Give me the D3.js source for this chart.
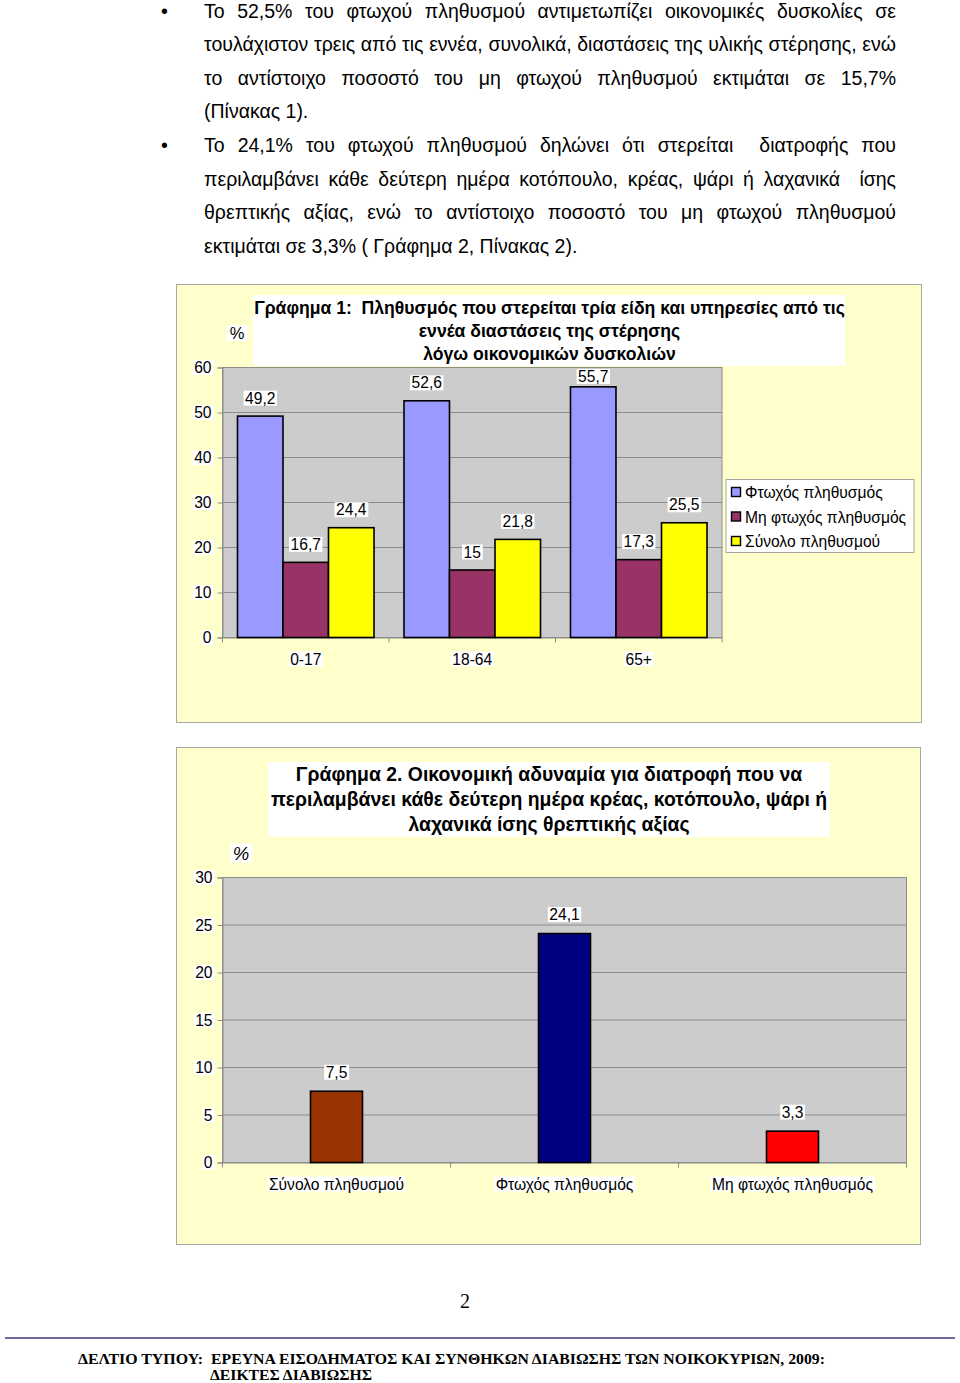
<!DOCTYPE html>
<html>
<head>
<meta charset="utf-8">
<script src="https://cdn.jsdelivr.net/npm/d3@7"></script>
<style>
  html, body { margin: 0; padding: 0; background: #ffffff; }
  svg { display: block; }
</style>
</head>
<body>
<svg id="page" width="960" height="1383"></svg>
<script>
// ---------------- DATA ----------------
const paragraph1 = [
  "Το 52,5% του φτωχού πληθυσμού αντιμετωπίζει οικονομικές δυσκολίες σε",
  "τουλάχιστον τρεις από τις εννέα, συνολικά, διαστάσεις της υλικής στέρησης, ενώ",
  "το αντίστοιχο ποσοστό του μη φτωχού πληθυσμού εκτιμάται σε 15,7%",
  "(Πίνακας 1)."
];
const paragraph2 = [
  "Το 24,1% του φτωχού πληθυσμού δηλώνει ότι στερείται  διατροφής που",
  "περιλαμβάνει κάθε δεύτερη ημέρα κοτόπουλο, κρέας, ψάρι ή λαχανικά  ίσης",
  "θρεπτικής αξίας, ενώ το αντίστοιχο ποσοστό του μη φτωχού πληθυσμού",
  "εκτιμάται σε 3,3% ( Γράφημα 2, Πίνακας 2)."
];

const chart1Title = [
  "Γράφημα 1:  Πληθυσμός που στερείται τρία είδη και υπηρεσίες από τις",
  "εννέα διαστάσεις της στέρησης",
  "λόγω οικονομικών δυσκολιών"
];
const chart1Categories = ["0-17", "18-64", "65+"];
const chart1Series = ["Φτωχός πληθυσμός", "Μη φτωχός πληθυσμός", "Σύνολο πληθυσμού"];
const chart1Poor = [49.2, 52.6, 55.7];
const chart1NonPoor = [16.7, 15, 17.3];
const chart1Total = [24.4, 21.8, 25.5];
const chart1YTicks = [0, 10, 20, 30, 40, 50, 60];

const chart2Title = [
  "Γράφημα 2. Οικονομική αδυναμία για διατροφή που να",
  "περιλαμβάνει κάθε δεύτερη ημέρα κρέας, κοτόπουλο, ψάρι ή",
  "λαχανικά ίσης θρεπτικής αξίας"
];
const chart2Categories = ["Σύνολο πληθυσμού", "Φτωχός πληθυσμός", "Μη φτωχός πληθυσμός"];
const chart2Values = [7.5, 24.1, 3.3];
const chart2YTicks = [0, 5, 10, 15, 20, 25, 30];

const pageNumber = "2";
const footerLabel = "ΔΕΛΤΙΟ ΤΥΠΟΥ:";
const footerLine1 = "ΕΡΕΥΝΑ ΕΙΣΟΔΗΜΑΤΟΣ ΚΑΙ ΣΥΝΘΗΚΩΝ ΔΙΑΒΙΩΣΗΣ ΤΩΝ ΝΟΙΚΟΚΥΡΙΩΝ, 2009:";
const footerLine2 = "ΔΕΙΚΤΕΣ ΔΙΑΒΙΩΣΗΣ";

// ---------------- STYLE ----------------
const SANS = "'Liberation Sans', Arial, sans-serif";
const SERIF = "'Liberation Serif', 'Times New Roman', serif";
const CHART_FS = 15.6;
const fmt = v => String(v).replace(".", ",");

const svg = d3.select("#page");

// ---------------- PARAGRAPHS ----------------
function drawParagraph(lines, top, lineGap) {
  const left = 204, right = 896, W = right - left, fs = 19.5;
  const g = svg.append("g").attr("font-family", SANS).attr("font-size", fs).attr("fill", "#000");
  g.append("text").attr("x", 161).attr("y", top).text("•");
  const probe = g.append("text").attr("visibility", "hidden");
  const measure = s => { probe.text(s); return probe.node().getComputedTextLength(); };
  const spaceW = measure("a a") - measure("aa");
  lines.forEach((ln, i) => {
    const y = top + i * lineGap;
    if (i === lines.length - 1) {
      g.append("text").attr("x", left).attr("y", y).attr("xml:space", "preserve").text(ln);
      return;
    }
    const words = ln.split(" ");
    const widths = words.map(measure);
    const nat = d3.sum(widths) + (words.length - 1) * spaceW * 0.85;
    const sx = Math.min(1, W / nat);
    const lg = g.append("g").attr("transform", `translate(${left},${y}) scale(${sx},1)`);
    const gap = (W / sx - d3.sum(widths)) / (words.length - 1);
    let x = 0;
    words.forEach((w, k) => {
      if (w.length) lg.append("text").attr("x", x).attr("y", 0).text(w);
      x += widths[k] + gap;
    });
  });
  probe.remove();
}
drawParagraph(paragraph1, 17.8, 33.4);
drawParagraph(paragraph2, 152, 33.6);

// helper: text with white background box
function labelWithBg(g, x, y, text, opts = {}) {
  const lg = g.append("g");
  const t = lg.append("text")
    .attr("x", x).attr("y", y)
    .attr("text-anchor", opts.anchor || "middle")
    .attr("dominant-baseline", "central")
    .attr("font-family", SANS)
    .attr("font-size", opts.size || CHART_FS)
    .attr("font-style", opts.italic ? "italic" : null)
    .attr("fill", "#000")
    .text(text);
  const b = t.node().getBBox();
  const p = opts.pad == null ? 1.5 : opts.pad;
  lg.insert("rect", "text")
    .attr("x", b.x - p).attr("y", b.y + 1).attr("width", b.width + 2 * p).attr("height", b.height - 2)
    .attr("fill", "#fff");
  return lg;
}

// ---------------- CHART 1 ----------------
(function () {
  const g = svg.append("g");
  g.append("rect").attr("x", 176.5).attr("y", 284.5).attr("width", 745).attr("height", 438)
    .attr("fill", "#FFFFCC").attr("stroke", "#a6a6a6").attr("stroke-width", 1);

  const x0 = 222.5, x1 = 722, yTop = 367.5, yBot = 637.5;
  const y = d3.scaleLinear().domain([0, 60]).range([yBot, yTop]);
  const x = d3.scaleBand().domain(chart1Categories).range([x0, x1]).paddingInner(0.18).paddingOuter(0.09);
  const xs = d3.scaleBand().domain(chart1Series).range([0, x.bandwidth()]);
  const colors = d3.scaleOrdinal().domain(chart1Series).range(["#9999FF", "#993366", "#FFFF00"]);
  const seriesValues = [chart1Poor, chart1NonPoor, chart1Total];

  // title
  const tg = g.append("g").attr("font-family", SANS).attr("font-weight", "bold").attr("font-size", 17.6).attr("text-anchor", "middle");
  tg.append("rect").attr("x", 253).attr("y", 295).attr("width", 592).attr("height", 71).attr("fill", "#fff");
  chart1Title.forEach((ln, i) => {
    tg.append("text").attr("x", 549.5).attr("y", 314 + i * 23).attr("xml:space", "preserve").text(ln);
  });

  // plot area
  g.append("rect").attr("x", x0).attr("y", yTop).attr("width", x1 - x0).attr("height", yBot - yTop)
    .attr("fill", "#CCCCCC").attr("stroke", "#8c8c8c").attr("stroke-width", 1);
  g.append("g").selectAll("line").data(chart1YTicks.filter(d => d > 0 && d < 60)).join("line")
    .attr("x1", x0).attr("x2", x1).attr("y1", d => y(d)).attr("y2", d => y(d))
    .attr("stroke", "#8c8c8c").attr("stroke-width", 1);

  // y axis
  const ya = g.append("g").attr("transform", `translate(${x0},0)`)
    .call(d3.axisLeft(y).tickValues(chart1YTicks).tickSize(5).tickFormat(""));
  ya.select(".domain").attr("stroke", "#8c8c8c");
  ya.selectAll(".tick line").attr("stroke", "#8c8c8c");
  chart1YTicks.forEach(t => labelWithBg(g, 211.5, y(t), String(t), { anchor: "end" }));

  // x axis
  const xa = g.append("g").attr("transform", `translate(0,${yBot})`)
    .call(d3.axisBottom(x).tickSize(0).tickFormat(""));
  xa.select(".domain").attr("stroke", "#8c8c8c");
  const bounds = d3.range(chart1Categories.length + 1).map(i => x0 + i * x.step());
  g.append("g").selectAll("line").data(bounds).join("line")
    .attr("x1", d => d).attr("x2", d => d).attr("y1", yBot).attr("y2", yBot + 5)
    .attr("stroke", "#8c8c8c");
  chart1Categories.forEach(c => labelWithBg(g, x(c) + x.bandwidth() / 2, 659, c));

  // bars
  chart1Series.forEach((s, si) => {
    const vals = seriesValues[si];
    g.append("g").selectAll("rect").data(chart1Categories).join("rect")
      .attr("x", c => x(c) + xs(s))
      .attr("y", (c, i) => y(vals[i]))
      .attr("width", xs.bandwidth())
      .attr("height", (c, i) => yBot - y(vals[i]))
      .attr("fill", colors(s)).attr("stroke", "#000").attr("stroke-width", 1.6);
  });
  // value labels (kept below the title box)
  chart1Series.forEach((s, si) => {
    const vals = seriesValues[si];
    chart1Categories.forEach((c, i) => {
      const ly = Math.max(yTop + 9, y(vals[i]) - 18);
      labelWithBg(g, x(c) + xs(s) + xs.bandwidth() / 2, ly, fmt(vals[i]));
    });
  });

  labelWithBg(g, 237, 333, "%", { size: 16.5, pad: 3 });

  // legend
  const lg = g.append("g");
  lg.append("rect").attr("x", 726).attr("y", 479.5).attr("width", 188).attr("height", 73)
    .attr("fill", "#fff").attr("stroke", "#a6a6a6");
  chart1Series.forEach((s, i) => {
    const cy = 492.5 + i * 24.5;
    lg.append("rect").attr("x", 731.5).attr("y", cy - 5).attr("width", 9).attr("height", 9)
      .attr("fill", colors(s)).attr("stroke", "#000").attr("stroke-width", 1.4);
    lg.append("text").attr("x", 745).attr("y", cy).attr("dominant-baseline", "central")
      .attr("font-family", SANS).attr("font-size", CHART_FS).text(s);
  });
})();

// ---------------- CHART 2 ----------------
(function () {
  const g = svg.append("g");
  g.append("rect").attr("x", 176.5).attr("y", 747.5).attr("width", 744).attr("height", 497)
    .attr("fill", "#FFFFCC").attr("stroke", "#a6a6a6").attr("stroke-width", 1);

  const x0 = 222.5, x1 = 906.5, yTop = 877.5, yBot = 1162.5;
  const y = d3.scaleLinear().domain([0, 30]).range([yBot, yTop]);
  const x = d3.scaleBand().domain(chart2Categories).range([x0, x1]).paddingInner(0.772).paddingOuter(0.386);
  const colors = d3.scaleOrdinal().domain(chart2Categories).range(["#993300", "#000080", "#FF0000"]);

  const tg = g.append("g").attr("font-family", SANS).attr("font-weight", "bold").attr("font-size", 19.4).attr("text-anchor", "middle");
  tg.append("rect").attr("x", 268).attr("y", 762).attr("width", 562).attr("height", 75).attr("fill", "#fff");
  chart2Title.forEach((ln, i) => {
    tg.append("text").attr("x", 549).attr("y", 781 + i * 25).text(ln);
  });

  g.append("rect").attr("x", x0).attr("y", yTop).attr("width", x1 - x0).attr("height", yBot - yTop)
    .attr("fill", "#CCCCCC").attr("stroke", "#8c8c8c").attr("stroke-width", 1);
  g.append("g").selectAll("line").data(chart2YTicks.filter(d => d > 0 && d < 30)).join("line")
    .attr("x1", x0).attr("x2", x1).attr("y1", d => y(d)).attr("y2", d => y(d))
    .attr("stroke", "#8c8c8c").attr("stroke-width", 1);

  const ya = g.append("g").attr("transform", `translate(${x0},0)`)
    .call(d3.axisLeft(y).tickValues(chart2YTicks).tickSize(5).tickFormat(""));
  ya.select(".domain").attr("stroke", "#8c8c8c");
  ya.selectAll(".tick line").attr("stroke", "#8c8c8c");
  chart2YTicks.forEach(t => labelWithBg(g, 212.5, y(t), String(t), { anchor: "end" }));

  const xa = g.append("g").attr("transform", `translate(0,${yBot})`)
    .call(d3.axisBottom(x).tickSize(0).tickFormat(""));
  xa.select(".domain").attr("stroke", "#8c8c8c");
  const bounds = d3.range(chart2Categories.length + 1).map(i => x0 + i * x.step());
  g.append("g").selectAll("line").data(bounds).join("line")
    .attr("x1", d => d).attr("x2", d => d).attr("y1", yBot).attr("y2", yBot + 5)
    .attr("stroke", "#8c8c8c");
  chart2Categories.forEach(c => labelWithBg(g, x(c) + x.bandwidth() / 2, 1184, c));

  g.append("g").selectAll("rect").data(chart2Categories).join("rect")
    .attr("x", c => x(c))
    .attr("y", (c, i) => y(chart2Values[i]))
    .attr("width", x.bandwidth())
    .attr("height", (c, i) => yBot - y(chart2Values[i]))
    .attr("fill", c => colors(c)).attr("stroke", "#000").attr("stroke-width", 1.6);

  chart2Categories.forEach((c, i) => {
    labelWithBg(g, x(c) + x.bandwidth() / 2, y(chart2Values[i]) - 19, fmt(chart2Values[i]));
  });

  labelWithBg(g, 241, 853, "%", { size: 18.5, italic: true, pad: 3 });
})();

// ---------------- FOOTER ----------------
svg.append("text").attr("x", 465).attr("y", 1308).attr("text-anchor", "middle")
  .attr("font-family", SERIF).attr("font-size", 20).text(pageNumber);
svg.append("line").attr("x1", 5).attr("x2", 955).attr("y1", 1338).attr("y2", 1338)
  .attr("stroke", "#6b6b99").attr("stroke-width", 2);
const fg = svg.append("g").attr("font-family", SERIF).attr("font-weight", "bold").attr("font-size", 15);
fg.append("text").attr("x", 78).attr("y", 1364).attr("textLength", 125).attr("lengthAdjust", "spacingAndGlyphs").text(footerLabel);
fg.append("text").attr("x", 211).attr("y", 1364).attr("textLength", 614).attr("lengthAdjust", "spacingAndGlyphs").text(footerLine1);
fg.append("text").attr("x", 210).attr("y", 1380).attr("textLength", 162).attr("lengthAdjust", "spacingAndGlyphs").text(footerLine2);
</script>
</body>
</html>
